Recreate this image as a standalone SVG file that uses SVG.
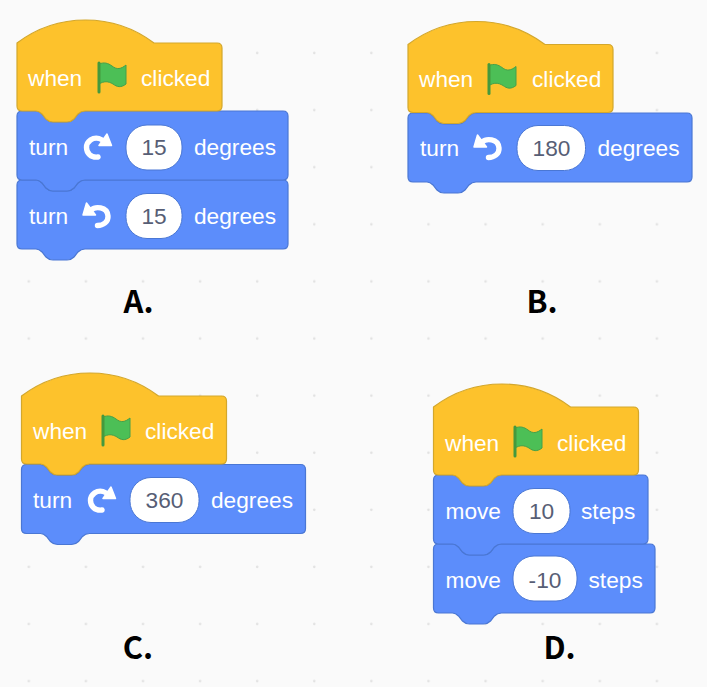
<svg xmlns="http://www.w3.org/2000/svg" width="707" height="693" viewBox="0 0 707 693">
<style>
.hat{fill:#FDC22C;stroke:#D3A72C;stroke-width:1.2}
.blk{fill:#5C8DFB;stroke:#4A77D4;stroke-width:1.2}
.t{font:22.7px "Liberation Sans",Arial,sans-serif;fill:#fff}
.v{font:22.7px "Liberation Sans",Arial,sans-serif;fill:#575E75;text-anchor:middle}
.inp{fill:#fff;stroke:#4A77D4;stroke-width:1}
.lab{font:700 31px "Noto Sans CJK SC","Noto Sans",sans-serif;fill:#000;text-anchor:middle}
.ic{fill:none;stroke:#fff;stroke-width:5.4;stroke-linecap:round}
.ich{fill:#fff;stroke:#fff;stroke-width:1.5;stroke-linejoin:round}
</style>
<defs>
<pattern id="gridp" patternUnits="userSpaceOnUse" width="57.100" height="57.100" x="0" y="0"><circle cx="28.800" cy="53" r="1.300" fill="#E2E2E2"/></pattern>
<path id="hatp" class="hat" d="M0 0A113.500 113.500 0 0 1 137 0H200Q205 0 205 5V63Q205 68 200 68H68Q64 68 61 71L57 76Q54 79 50 79H36Q32 79 29 76L25 71Q22 68 19 68H5Q0 68 0 63Z"/>
<g id="flag"><path d="M1 2C6 0 10 1 14 4C19 8 23 7 28 3V22C23 26 19 25 15 22C10 19 6 19 1 22Z" fill="#4CBF56" stroke="#45A04A" stroke-width="1"/><path d="M1 1V30" stroke="#45993D" stroke-width="3" stroke-linecap="round"/></g>
<g id="cw"><path class="ic" d="M14 23C7 24 2.500 19 2.500 13.500C2.500 7 9 3 15 4.500C17 5 19 6.500 20 8"/><path class="ich" d="M23 0L27.500 11.500H15Z"/></g>
<g id="ccw"><path class="ic" d="M8 10C12 6.500 24 6 25 16C25.500 22 20 25.500 14.500 25.500"/><path class="ich" d="M3.500 3L0 15H12.500Z"/></g>
</defs>
<rect width="707" height="693" fill="#fff"/>
<rect width="707" height="687" fill="#FAFAFA"/>
<rect id="grid" width="707" height="687" fill="url(#gridp)"/>
<g id="block-A">
<path class="blk" transform="translate(17 180)" d="M5 0H19Q22 0 25 3L29 8Q32 11 36 11H50Q54 11 57 8L61 3Q64 0 68 0H266Q271 0 271 5V64Q271 69 266 69H68Q64 69 61 72L57 77Q54 80 50 80H36Q32 80 29 77L25 72Q22 69 19 69H5Q0 69 0 64V5Q0 0 5 0Z"/>
<path class="blk" transform="translate(17 111)" d="M5 0H19Q22 0 25 3L29 8Q32 11 36 11H50Q54 11 57 8L61 3Q64 0 68 0H266Q271 0 271 5V64Q271 69 266 69H68Q64 69 61 72L57 77Q54 80 50 80H36Q32 80 29 77L25 72Q22 69 19 69H5Q0 69 0 64V5Q0 0 5 0Z"/>
<use href="#hatp" x="17" y="43"/>
<text class="t" x="28" y="86">when</text><use href="#flag" x="98" y="62"/><text class="t" x="141" y="86">clicked</text>
<text class="t" x="29" y="155">turn</text><use href="#cw" x="84" y="134"/><rect class="inp" x="126" y="125" width="56" height="45" rx="21"/><text class="v" x="154" y="155">15</text><text class="t" x="194" y="155">degrees</text>
<text class="t" x="29" y="224">turn</text><use href="#ccw" x="83" y="200"/><rect class="inp" x="126" y="193.500" width="56" height="45" rx="21"/><text class="v" x="154" y="224">15</text><text class="t" x="194" y="224">degrees</text>
</g>
<g id="block-B">
<path class="blk" transform="translate(408 113)" d="M5 0H19Q22 0 25 3L29 8Q32 11 36 11H50Q54 11 57 8L61 3Q64 0 68 0H279Q284 0 284 5V64Q284 69 279 69H68Q64 69 61 72L57 77Q54 80 50 80H36Q32 80 29 77L25 72Q22 69 19 69H5Q0 69 0 64V5Q0 0 5 0Z"/>
<use href="#hatp" x="408" y="44.500"/>
<text class="t" x="419" y="87">when</text><use href="#flag" x="488" y="63.500"/><text class="t" x="532" y="87">clicked</text>
<text class="t" x="420" y="156">turn</text><use href="#ccw" x="474" y="132"/><rect class="inp" x="517" y="125.500" width="68.500" height="45" rx="21"/><text class="v" x="551.500" y="156">180</text><text class="t" x="597.500" y="156">degrees</text>
</g>
<g id="block-C">
<path class="blk" transform="translate(21.500 464.500)" d="M5 0H19Q22 0 25 3L29 8Q32 11 36 11H50Q54 11 57 8L61 3Q64 0 68 0H279Q284 0 284 5V64Q284 69 279 69H68Q64 69 61 72L57 77Q54 80 50 80H36Q32 80 29 77L25 72Q22 69 19 69H5Q0 69 0 64V5Q0 0 5 0Z"/>
<use href="#hatp" x="21.500" y="396"/>
<text class="t" x="33" y="439">when</text><use href="#flag" x="102" y="415"/><text class="t" x="145" y="439">clicked</text>
<text class="t" x="33" y="508">turn</text><use href="#cw" x="88" y="487"/><rect class="inp" x="130" y="477.500" width="69" height="45" rx="21"/><text class="v" x="164.500" y="508">360</text><text class="t" x="211" y="508">degrees</text>
</g>
<g id="block-D">
<path class="blk" transform="translate(433.500 544)" d="M5 0H19Q22 0 25 3L29 8Q32 11 36 11H50Q54 11 57 8L61 3Q64 0 68 0H216.500Q221.500 0 221.500 5V64Q221.500 69 216.500 69H68Q64 69 61 72L57 77Q54 80 50 80H36Q32 80 29 77L25 72Q22 69 19 69H5Q0 69 0 64V5Q0 0 5 0Z"/>
<path class="blk" transform="translate(433.500 475)" d="M5 0H19Q22 0 25 3L29 8Q32 11 36 11H50Q54 11 57 8L61 3Q64 0 68 0H209.500Q214.500 0 214.500 5V64Q214.500 69 209.500 69H68Q64 69 61 72L57 77Q54 80 50 80H36Q32 80 29 77L25 72Q22 69 19 69H5Q0 69 0 64V5Q0 0 5 0Z"/>
<use href="#hatp" x="433.500" y="407"/>
<text class="t" x="445" y="451">when</text><use href="#flag" x="514" y="426"/><text class="t" x="557" y="451">clicked</text>
<text class="t" x="445.500" y="519">move</text><rect class="inp" x="513" y="488.500" width="57" height="45" rx="21"/><text class="v" x="541.500" y="519">10</text><text class="t" x="581" y="519">steps</text>
<text class="t" x="445.500" y="588">move</text><rect class="inp" x="513" y="556" width="64" height="45" rx="21"/><text class="v" x="545" y="588">-10</text><text class="t" x="588.500" y="588">steps</text>
</g>
<g id="labels">
<text class="lab" x="138.500" y="313">A.</text><text class="lab" x="542" y="313">B.</text><text class="lab" x="138" y="659">C.</text><text class="lab" x="559.500" y="659">D.</text>
</g>
<g id="connectors"/>
</svg>
